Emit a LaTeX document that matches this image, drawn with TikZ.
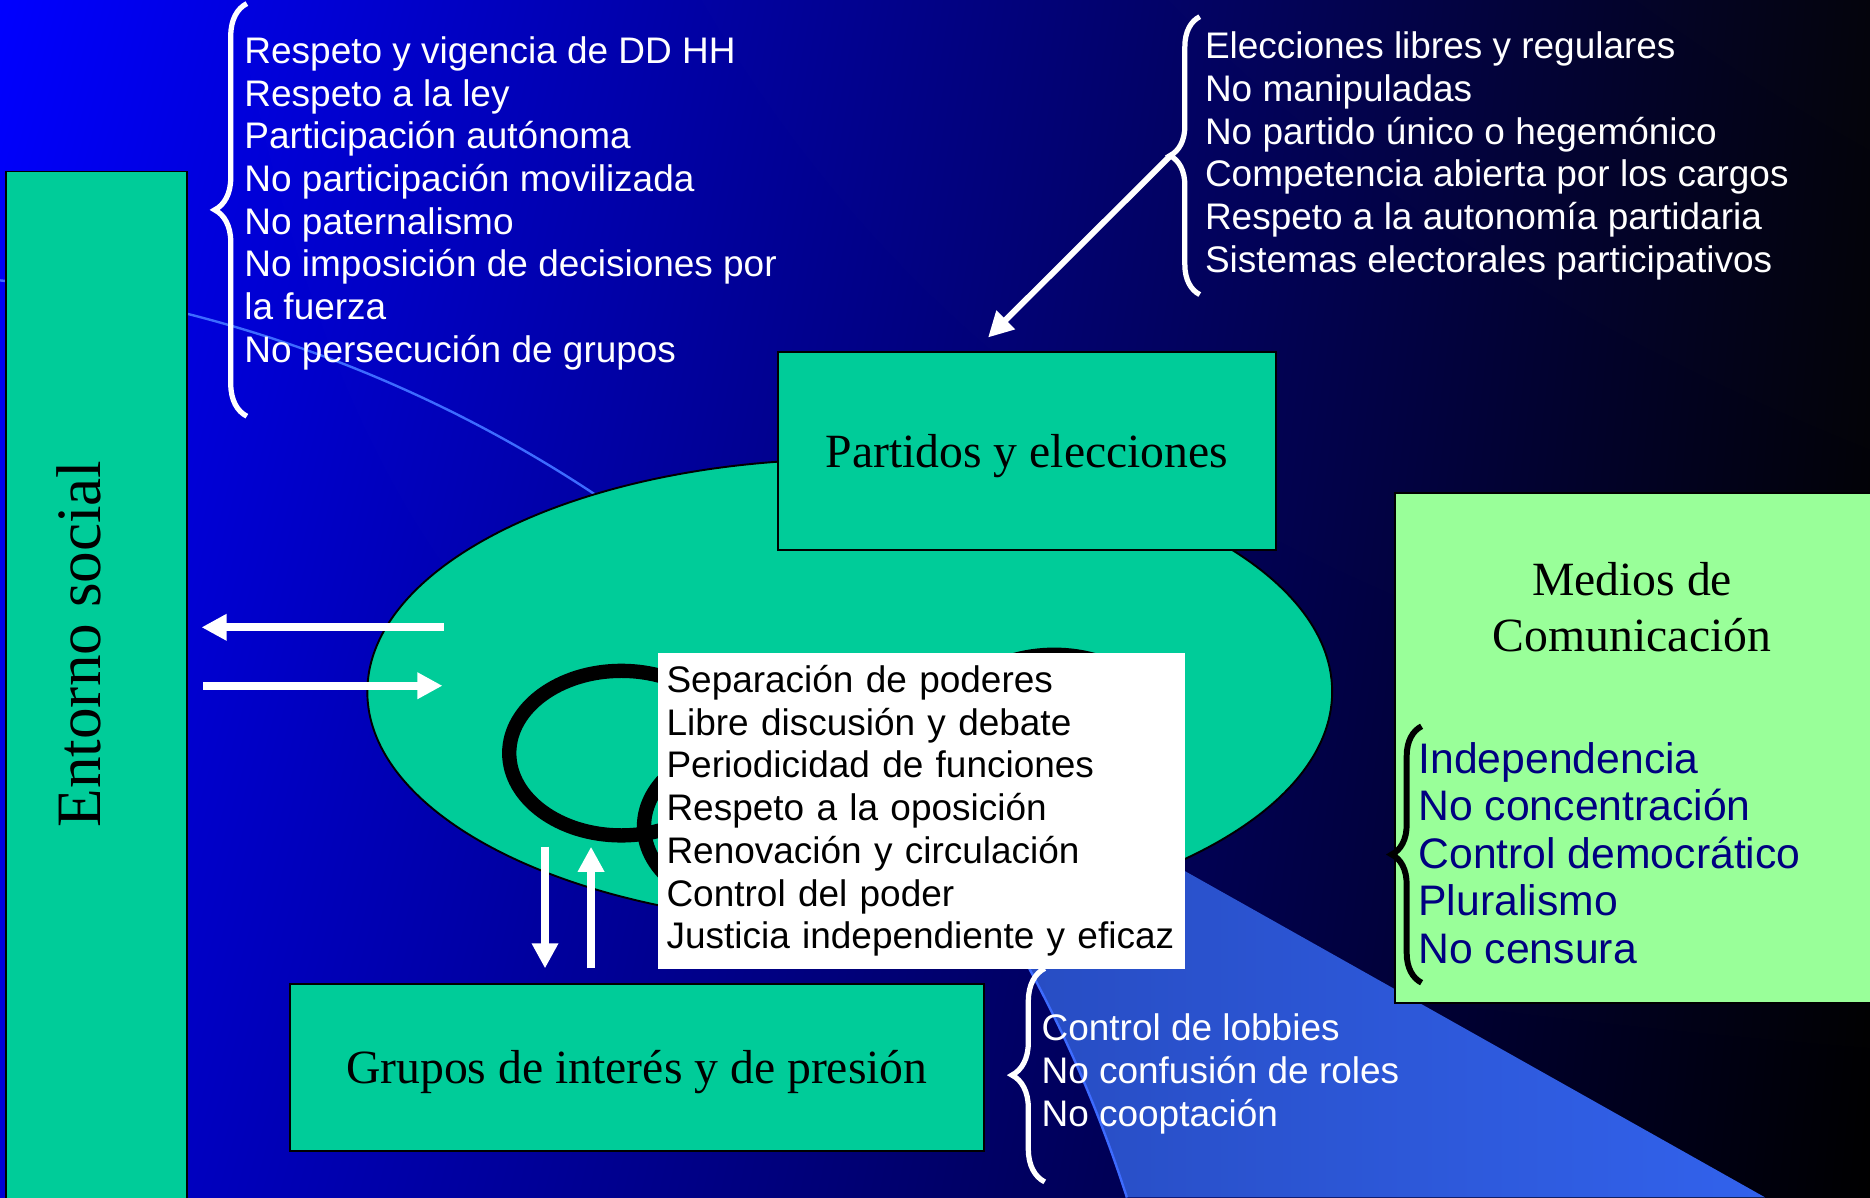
\documentclass[tikz,border=0pt]{standalone}
\usepackage{fontspec}
\setmainfont{Liberation Serif}
\setsansfont{Liberation Sans}
\usepackage{xcolor}
\usetikzlibrary{arrows.meta,positioning,shapes.geometric,shadings,decorations.pathreplacing}
\definecolor{fondo}{HTML}{0000FF}
\definecolor{fondobajo}{HTML}{0000D4}
\definecolor{fondoder}{HTML}{04040C}
\definecolor{verde}{HTML}{00CC99}
\definecolor{verdeclaro}{HTML}{99FF99}
\definecolor{marino}{HTML}{000080}
\definecolor{arco}{HTML}{3D6BFF}
\definecolor{cunaizq}{HTML}{2446B6}
\definecolor{cunader}{HTML}{3262EC}

\begin{document}
\begin{tikzpicture}[
  x=0.5pt, y=0.5pt,
  caja/.style={draw=black, fill=verde, line width=0.8pt, inner sep=0pt,
               font=\fontsize{20}{24}\selectfont, text depth=0pt},
  lista/.style={anchor=north west, align=left, inner sep=0pt, text=white,
                font=\sffamily\fontsize{15.5}{17.9}\selectfont},
  llave/.style={decorate, decoration={brace, amplitude=#1}, line width=2.2pt, white},
  flecha/.style={-{Triangle[length=10.5pt, width=10.5pt]}, line width=3.2pt, white},
  anillo/.style={draw=black, line width=6pt}
]
  \useasboundingbox (0,0) rectangle (1568,-1004);
  \shade[upper left=fondo, lower left=fondobajo, upper right=fondoder, lower right=black]
    (0,0) rectangle (1568,-1004);
  \shade[left color=cunaizq, right color=cunader]
    (655,-540) -- (1480,-1004) -- (945,-1004) arc[start angle=17.75, end angle=46.2, radius=1115] -- cycle;
  \draw[arco, line width=1pt] (-117,-229) arc[start angle=90, end angle=17.75, radius=1115];

  \node[ellipse, draw=black, fill=verde, line width=0.8pt, minimum width=404.5pt, minimum height=195pt]
    (sistema) at (712.5,-580) {};
  \node[caja, anchor=north west, minimum width=76pt, minimum height=440pt] (entorno) at (4,-143) {};
  \node[rotate=90, font=\fontsize{26.5}{30}\selectfont, text depth=0pt] (entornotxt) at (66,-540) {Entorno social};

  \draw[anillo] (884,-618) ellipse [x radius=94, y radius=69];
  \draw[anillo] (634,-693) ellipse [x radius=94, y radius=69];
  \draw[anillo] (521,-631.5) ellipse [x radius=94, y radius=69];

  \node[anchor=north west, fill=white, minimum height=132.5pt, text width=213.5pt,
        inner xsep=3.75pt, inner ysep=0pt, align=left,
        font=\sffamily\fontsize{15.5}{17.9}\selectfont] (principios) at (551,-547)
    {Separación de poderes\\Libre discusión y debate\\Periodicidad de funciones\\Respeto a la oposición\\Renovación y circulación\\Control del poder\\Justicia independiente y eficaz};

  \node[caja, minimum width=209pt, minimum height=83pt] (partidos) at (861,-378) {Partidos y elecciones};
  \node[caja, minimum width=291pt, minimum height=70pt] (grupos) at (534,-895) {Grupos de interés y de presión};
  \node[caja, fill=verdeclaro, anchor=north west, minimum width=206pt, minimum height=214pt] (medios) at (1169,-412.5) {};
  \node[align=center, anchor=north, inner sep=0pt, font=\fontsize{20}{23.5}\selectfont]
    (mediostit) at (1368.5,-471) {Medios de\\Comunicación};

  \node[lista] (ddhh) at (204.6,-30.3)
    {Respeto y vigencia de DD HH\\Respeto a la ley\\Participación autónoma\\No participación movilizada\\No paternalismo\\No imposición de decisiones por\\la fuerza\\No persecución de grupos};
  \node[lista] (elecciones) at (1010,-26.3)
    {Elecciones libres y regulares\\No manipuladas\\No partido único o hegemónico\\Competencia abierta por los cargos\\Respeto a la autonomía partidaria\\Sistemas electorales participativos};
  \node[lista] (lobbies) at (873,-850)
    {Control de lobbies\\No confusión de roles\\No cooptación};
  \node[lista, text=marino, font=\sffamily\fontsize{17.9}{19.9}\selectfont] (medioslista) at (1189,-622)
    {Independencia\\No concentración\\Control democrático\\Pluralismo\\No censura};

  \draw[llave=13.5pt] (207,-349) -- (207,-3);
  \draw[llave=12.5pt] (1006,-247) -- (1006,-14);
  \draw[llave=13.75pt] (876,-991) -- (876,-812);
  \draw[llave=12.5pt, black, line width=2.5pt] (1192,-824) -- (1192,-609);

  \coordinate (puntallave) at (981,-131);
  \coordinate (puntapartidos) at (828.5,-283);
  \coordinate (salida) at (372,-526);
  \coordinate (llegada) at (169,-526);
  \coordinate (desdeentorno) at (170.5,-575);
  \coordinate (haciasistema) at (371,-575);
  \coordinate (bajaarriba) at (457,-710);
  \coordinate (bajaabajo) at (457,-812);
  \coordinate (subeabajo) at (495.6,-812);
  \coordinate (subearriba) at (495.6,-710);
  \draw[flecha, line width=2.5pt] (puntallave) -- (puntapartidos);
  \draw[flecha] (salida) -- (llegada);
  \draw[flecha] (desdeentorno) -- (haciasistema);
  \draw[flecha] (bajaarriba) -- (bajaabajo);
  \draw[flecha] (subeabajo) -- (subearriba);
\end{tikzpicture}
\end{document}
